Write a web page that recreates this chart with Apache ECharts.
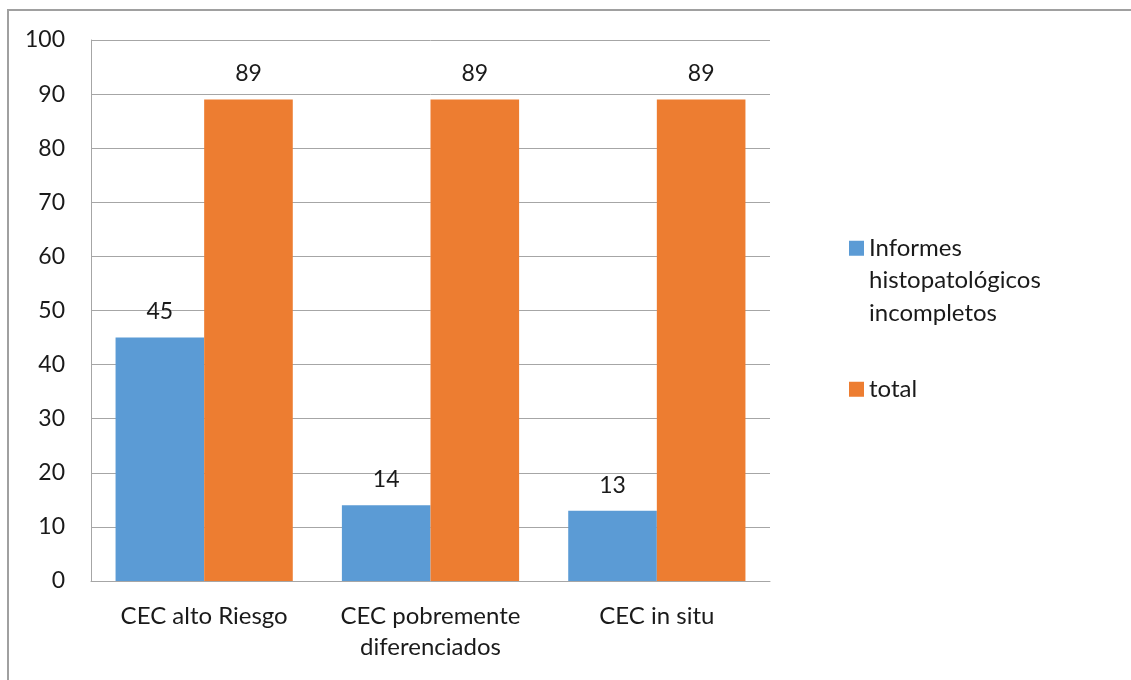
<!DOCTYPE html>
<html>
<head>
<meta charset="utf-8">
<script src="https://cdn.jsdelivr.net/npm/echarts@6/dist/echarts.min.js"></script>
<style>
  html, body { margin: 0; padding: 0; background: #fff; }
  #chart { width: 1131px; height: 680px; }
</style>
</head>
<body>
<div id="chart"></div>
<script>
// Categories and series values
const categories = ['CEC alto Riesgo', 'CEC pobremente\ndiferenciados', 'CEC in situ'];
const incompletos = [45, 14, 13];
const total = [89, 89, 89];
const seriesNames = ['Informes\nhistopatológicos\nincompletos', 'total'];

const FONT = 'Lato';
const TEXT = '#1a1a1a';
const GRID = '#a6a6a6';

const chart = echarts.init(document.getElementById('chart'), null, { renderer: 'canvas' });

const labelStyle = {
  show: true,
  position: 'top',
  distance: 14,
  fontFamily: FONT,
  fontSize: 23,
  color: TEXT
};

chart.setOption({
  animation: false,
  backgroundColor: '#fff',
  color: ['#5b9bd5', '#ed7d31'],
  graphic: [{
    type: 'rect',
    shape: { x: 8, y: 10, width: 1200, height: 800 },
    style: { fill: 'none', stroke: '#a0a0a0', lineWidth: 2 },
    silent: true,
    z: -10
  }],
  grid: { left: 91, right: 361, top: 40, bottom: 99, containLabel: false },
  legend: [{
    data: [seriesNames[0]],
    orient: 'vertical',
    left: 849,
    top: 167,
    padding: 0,
    itemWidth: 15,
    itemHeight: 15,
    icon: 'rect',
    // two leading blank lines keep the first text line level with the swatch
    formatter: name => '\n\n' + name,
    textStyle: { fontFamily: FONT, fontSize: 24, color: TEXT, lineHeight: 32.5 }
  }, {
    data: [seriesNames[1]],
    orient: 'vertical',
    left: 849,
    top: 373,
    padding: 0,
    itemWidth: 15,
    itemHeight: 15,
    icon: 'rect',
    textStyle: { fontFamily: FONT, fontSize: 24, color: TEXT, lineHeight: 32.5 }
  }],
  xAxis: {
    type: 'category',
    data: categories,
    axisLine: { show: true, lineStyle: { color: GRID, width: 1 } },
    axisTick: { show: false },
    axisLabel: {
      fontFamily: FONT, fontSize: 24, color: TEXT,
      margin: 20, lineHeight: 31, interval: 0
    }
  },
  yAxis: {
    type: 'value',
    min: 0,
    max: 100,
    interval: 10,
    axisLine: { show: true, lineStyle: { color: GRID, width: 1 } },
    axisTick: { show: false },
    splitLine: { show: true, lineStyle: { color: GRID, width: 1 } },
    axisLabel: { fontFamily: FONT, fontSize: 23, color: TEXT, margin: 26 }
  },
  series: [{
    name: seriesNames[0],
    type: 'bar',
    data: incompletos,
    barGap: '0%',
    barCategoryGap: '21.7%',
    label: labelStyle
  }, {
    name: seriesNames[1],
    type: 'bar',
    data: total,
    barGap: '0%',
    barCategoryGap: '21.7%',
    label: labelStyle
  }]
});
</script>
</body>
</html>
